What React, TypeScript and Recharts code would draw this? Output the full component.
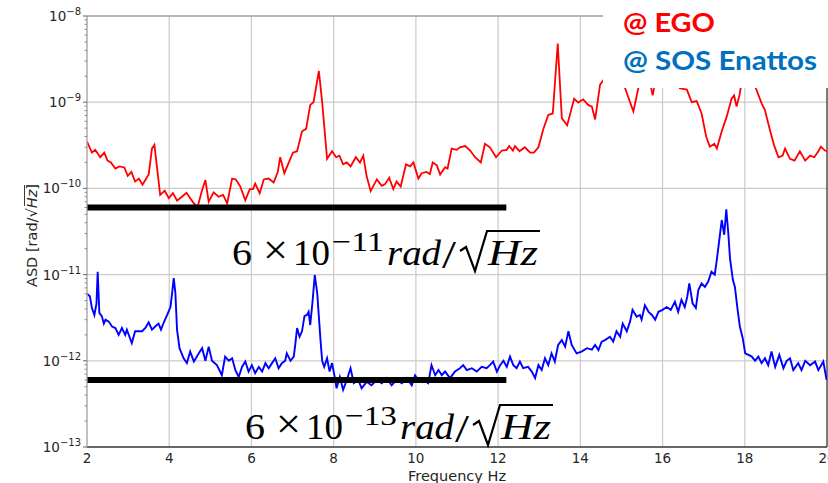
import React from 'react';
import { LineChart, Line, XAxis, YAxis, CartesianGrid, ReferenceLine } from 'recharts';

// ---------- axis ticks / labels ----------
const xTicks = [2, 4, 6, 8, 10, 12, 14, 16, 18, 20];
const yDecades = [1e-13, 1e-12, 1e-11, 1e-10, 1e-9, 1e-8];
const yMinorMultipliers = [2, 3, 4, 5, 6, 7, 8, 9];
const xGridValues = [4, 6, 8, 10, 12, 14, 16, 18];
const yGridValues = [1e-12, 1e-11, 1e-10, 1e-9];
const xAxisLabel = 'Frequency Hz';
const legendLabels = ['@ EGO', '@ SOS Enattos'];

// ---------- threshold lines ----------
const thresholdEGO = 6e-11;
const thresholdSOS = 6e-13;
const thresholdFreqStart = 2;
const thresholdFreqEnd = 12.2;

// ---------- spectra: [frequency Hz, ASD rad/sqrt(Hz)] ----------
const egoSpectrum: [number, number][] = [
  [2.00, 3.5e-10], [2.12, 2.6e-10], [2.20, 2.8e-10], [2.32, 2.3e-10], [2.42, 2.6e-10], [2.50, 2.1e-10],
  [2.58, 2.0e-10], [2.69, 1.7e-10], [2.79, 1.8e-10], [2.91, 1.75e-10], [2.99, 1.4e-10], [3.08, 1.55e-10],
  [3.17, 1.2e-10], [3.26, 1.3e-10], [3.35, 1.1e-10], [3.50, 1.45e-10], [3.58, 2.9e-10], [3.64, 3.2e-10],
  [3.70, 1.8e-10], [3.78, 8.4e-11], [3.89, 9.4e-11], [3.99, 7.7e-11], [4.09, 8.8e-11], [4.19, 7.2e-11],
  [4.31, 8.0e-11], [4.42, 8.9e-11], [4.51, 7.7e-11], [4.60, 6.7e-11], [4.69, 6.1e-11], [4.80, 9.6e-11],
  [4.88, 1.25e-10], [4.96, 7.0e-11], [5.08, 9.0e-11], [5.20, 8.0e-11], [5.31, 8.4e-11], [5.41, 6.7e-11],
  [5.53, 1.3e-10], [5.62, 1.27e-10], [5.73, 1.05e-10], [5.85, 7.3e-11], [5.96, 9.8e-11], [6.04, 9.8e-11],
  [6.09, 1.14e-10], [6.20, 8.8e-11], [6.30, 1.27e-10], [6.42, 1.3e-10], [6.54, 1.17e-10], [6.64, 1.55e-10],
  [6.70, 2.3e-10], [6.80, 1.5e-10], [6.91, 2.0e-10], [7.01, 2.6e-10], [7.11, 2.7e-10], [7.23, 4.6e-10],
  [7.33, 4.9e-10], [7.43, 9.3e-10], [7.51, 1.0e-9], [7.64, 2.3e-9], [7.72, 1.0e-9], [7.84, 2.2e-10],
  [7.96, 2.7e-10], [8.06, 2.3e-10], [8.14, 2.4e-10], [8.23, 1.9e-10], [8.32, 2.0e-10], [8.41, 1.8e-10],
  [8.54, 2.3e-10], [8.64, 2.0e-10], [8.72, 2.4e-10], [8.80, 1.4e-10], [8.90, 9.3e-11], [9.05, 1.27e-10],
  [9.17, 1.07e-10], [9.25, 1.12e-10], [9.35, 1.33e-10], [9.45, 9.8e-11], [9.53, 1.2e-10], [9.63, 1.05e-10],
  [9.76, 1.9e-10], [9.86, 1.8e-10], [9.94, 2.0e-10], [10.06, 1.3e-10], [10.14, 1.5e-10], [10.26, 1.55e-10],
  [10.34, 1.47e-10], [10.41, 2.0e-10], [10.51, 1.85e-10], [10.59, 1.45e-10], [10.71, 1.76e-10], [10.77, 1.7e-10],
  [10.87, 2.9e-10], [10.99, 2.8e-10], [11.07, 3.0e-10], [11.20, 3.1e-10], [11.32, 2.75e-10], [11.44, 2.3e-10],
  [11.58, 2.0e-10], [11.68, 3.3e-10], [11.80, 3.0e-10], [11.95, 2.3e-10], [12.09, 2.75e-10], [12.21, 2.8e-10],
  [12.27, 3.1e-10], [12.36, 2.75e-10], [12.41, 3.1e-10], [12.52, 2.7e-10], [12.65, 3.0e-10], [12.78, 2.6e-10],
  [12.87, 2.6e-10], [12.98, 3.0e-10], [13.10, 4.9e-10], [13.22, 7.1e-10], [13.33, 7.4e-10], [13.45, 4.8e-9],
  [13.55, 6.5e-10], [13.68, 5.4e-10], [13.85, 1.1e-9], [13.95, 9.9e-10], [14.07, 1.08e-9], [14.19, 9.3e-10],
  [14.28, 8.9e-10], [14.36, 6.3e-10], [14.48, 1.6e-9], [14.56, 1.8e-9], [14.70, 2.6e-9], [14.85, 2.3e-9],
  [14.97, 2.0e-9], [15.09, 1.45e-9], [15.29, 7.8e-10], [15.41, 1.45e-9], [15.52, 2.5e-9], [15.65, 2.1e-9],
  [15.76, 1.2e-9], [15.86, 2.2e-9], [16.00, 2.9e-9], [16.15, 2.5e-9], [16.30, 2.2e-9], [16.42, 1.45e-9],
  [16.59, 1.4e-9], [16.71, 1.0e-9], [16.83, 1.03e-9], [16.95, 7.4e-10], [17.06, 4.0e-10], [17.15, 3.05e-10],
  [17.26, 3.3e-10], [17.32, 2.9e-10], [17.44, 4.6e-10], [17.56, 6.8e-10], [17.68, 1.1e-9], [17.74, 1.2e-9],
  [17.80, 8.9e-10], [17.87, 1.2e-9], [17.90, 1.45e-9], [18.03, 2.5e-9], [18.15, 2.0e-9], [18.27, 1.45e-9],
  [18.41, 9.7e-10], [18.49, 8.1e-10], [18.61, 4.8e-10], [18.71, 3.2e-10], [18.82, 2.3e-10], [18.92, 2.4e-10],
  [18.98, 2.9e-10], [19.10, 2.2e-10], [19.21, 2.1e-10], [19.34, 2.7e-10], [19.47, 2.1e-10], [19.59, 2.4e-10],
  [19.69, 2.3e-10], [19.79, 2.7e-10], [19.85, 3.05e-10], [19.95, 2.75e-10], [20.00, 2.7e-10],
];

const sosSpectrum: [number, number][] = [
  [2.00, 6.0e-12], [2.07, 5.6e-12], [2.12, 4.1e-12], [2.18, 3.4e-12], [2.23, 4.6e-12], [2.26, 1.08e-11],
  [2.30, 3.6e-12], [2.36, 3.3e-12], [2.41, 2.7e-12], [2.45, 3.0e-12], [2.53, 2.85e-12], [2.61, 2.5e-12],
  [2.69, 2.4e-12], [2.77, 2.0e-12], [2.85, 2.4e-12], [2.93, 2.0e-12], [2.97, 2.3e-12], [3.05, 1.8e-12],
  [3.09, 1.6e-12], [3.17, 2.2e-12], [3.26, 2.2e-12], [3.34, 2.2e-12], [3.42, 2.4e-12], [3.50, 2.8e-12],
  [3.58, 2.3e-12], [3.66, 2.5e-12], [3.74, 2.7e-12], [3.80, 2.3e-12], [3.87, 2.8e-12], [3.95, 3.4e-12],
  [4.03, 4.2e-12], [4.07, 6.1e-12], [4.11, 9.1e-12], [4.15, 6.1e-12], [4.19, 2.3e-12], [4.25, 1.4e-12],
  [4.35, 1.07e-12], [4.43, 9.4e-13], [4.51, 1.28e-12], [4.60, 9.8e-13], [4.72, 1.22e-12], [4.80, 1.4e-12],
  [4.88, 1.0e-12], [4.96, 1.46e-12], [5.04, 1.0e-12], [5.16, 8.9e-13], [5.28, 6.8e-13], [5.36, 1.12e-12],
  [5.45, 1.0e-12], [5.53, 1.07e-12], [5.61, 7.8e-13], [5.69, 6.5e-13], [5.77, 8.5e-13], [5.85, 9.8e-13],
  [5.93, 7.5e-13], [6.01, 8.9e-13], [6.09, 7.2e-13], [6.18, 8.5e-13], [6.26, 7.5e-13], [6.34, 9.4e-13],
  [6.42, 8.2e-13], [6.50, 9.4e-13], [6.58, 1.07e-12], [6.66, 8.2e-13], [6.74, 9.4e-13], [6.82, 1.0e-12],
  [6.86, 1.22e-12], [6.95, 1.0e-12], [7.03, 1.12e-12], [7.07, 1.6e-12], [7.11, 2.4e-12], [7.17, 1.9e-12],
  [7.23, 2.2e-12], [7.29, 3.3e-12], [7.35, 3.4e-12], [7.39, 3.7e-12], [7.43, 2.6e-12], [7.49, 5.1e-12],
  [7.54, 9.9e-12], [7.60, 6.1e-12], [7.68, 1.74e-12], [7.72, 1.0e-12], [7.77, 8.5e-13], [7.84, 1.07e-12],
  [7.90, 7.5e-13], [7.96, 9.4e-13], [8.04, 6.0e-13], [8.07, 4.8e-13], [8.15, 6.5e-13], [8.23, 4.6e-13],
  [8.32, 6.0e-13], [8.41, 8.2e-13], [8.49, 5.5e-13], [8.60, 6.0e-13], [8.68, 4.8e-13], [8.80, 5.7e-13],
  [8.92, 5.2e-13], [9.05, 6.0e-13], [9.17, 5.5e-13], [9.29, 6.3e-13], [9.41, 5.2e-13], [9.53, 6.0e-13],
  [9.66, 5.5e-13], [9.78, 6.3e-13], [9.90, 5.2e-13], [9.98, 6.8e-13], [10.06, 6.0e-13], [10.18, 6.0e-13],
  [10.30, 5.5e-13], [10.38, 8.9e-13], [10.47, 6.8e-13], [10.55, 7.8e-13], [10.63, 6.8e-13], [10.71, 7.5e-13],
  [10.83, 6.3e-13], [10.95, 7.5e-13], [11.07, 8.2e-13], [11.15, 8.9e-13], [11.24, 7.8e-13], [11.36, 8.2e-13],
  [11.48, 7.5e-13], [11.60, 8.5e-13], [11.72, 8.2e-13], [11.80, 8.9e-13], [11.88, 9.8e-13], [11.97, 7.5e-13],
  [12.05, 8.9e-13], [12.13, 1.0e-12], [12.21, 8.5e-13], [12.29, 1.12e-12], [12.37, 8.9e-13], [12.45, 8.2e-13],
  [12.53, 9.8e-13], [12.61, 8.2e-13], [12.73, 8.5e-13], [12.82, 7.5e-13], [12.90, 6.3e-13], [12.98, 8.9e-13],
  [13.06, 7.8e-13], [13.14, 1.07e-12], [13.22, 8.9e-13], [13.30, 1.22e-12], [13.38, 9.8e-13], [13.46, 1.53e-12],
  [13.55, 1.74e-12], [13.63, 1.46e-12], [13.71, 2.2e-12], [13.79, 1.53e-12], [13.91, 1.22e-12], [14.03, 1.28e-12],
  [14.16, 1.4e-12], [14.28, 1.35e-12], [14.36, 1.53e-12], [14.44, 1.33e-12], [14.52, 1.67e-12], [14.60, 1.74e-12],
  [14.72, 1.9e-12], [14.80, 1.67e-12], [14.88, 2.2e-12], [14.97, 1.9e-12], [15.03, 2.7e-12], [15.13, 2.2e-12],
  [15.21, 2.85e-12], [15.27, 3.9e-12], [15.37, 3.25e-12], [15.45, 3.4e-12], [15.49, 3.0e-12], [15.57, 4.4e-12],
  [15.66, 3.7e-12], [15.74, 3.4e-12], [15.82, 3.0e-12], [15.90, 3.7e-12], [16.00, 3.9e-12], [16.10, 4.2e-12],
  [16.20, 3.9e-12], [16.30, 4.85e-12], [16.38, 3.7e-12], [16.46, 5.1e-12], [16.54, 4.2e-12], [16.60, 5.5e-12],
  [16.65, 7.9e-12], [16.73, 4.65e-12], [16.81, 4.1e-12], [16.87, 6.6e-12], [16.95, 7.9e-12], [17.03, 7.2e-12],
  [17.11, 8.3e-12], [17.19, 1.08e-11], [17.27, 1.0e-11], [17.32, 1.48e-11], [17.40, 3.0e-11], [17.44, 4.3e-11],
  [17.50, 2.9e-11], [17.55, 5.7e-11], [17.60, 3.0e-11], [17.64, 1.55e-11], [17.71, 8.7e-12], [17.76, 7.2e-12],
  [17.82, 4.1e-12], [17.88, 2.5e-12], [17.95, 1.83e-12], [18.01, 1.22e-12], [18.09, 1.17e-12], [18.17, 1.12e-12],
  [18.25, 1.0e-12], [18.33, 1.12e-12], [18.41, 9.4e-13], [18.49, 1.07e-12], [18.57, 8.9e-13], [18.65, 1.28e-12],
  [18.74, 8.5e-13], [18.84, 1.17e-12], [18.94, 8.2e-13], [19.02, 1.0e-12], [19.10, 1.07e-12], [19.18, 7.8e-13],
  [19.30, 9.4e-13], [19.38, 7.8e-13], [19.47, 1.0e-12], [19.59, 8.9e-13], [19.71, 9.8e-13], [19.79, 7.8e-13],
  [19.91, 9.8e-13], [19.99, 6.0e-13],
];

const egoData = egoSpectrum.map(([f, v]) => ({ f, v }));
const sosData = sosSpectrum.map(([f, v]) => ({ f, v }));

const yTicks: number[] = [];
yDecades.forEach((d, i) => {
  yTicks.push(d);
  if (i < yDecades.length - 1) yMinorMultipliers.forEach((m) => yTicks.push(m * d));
});

const TICK_FONT = 'DejaVu Sans';

const YTick = (props: any) => {
  const { x, y, payload } = props;
  const v = payload.value as number;
  const e = Math.round(Math.log10(v));
  const major = Math.abs(v / Math.pow(10, e) - 1) < 1e-6;
  if (!major) {
    return <line x1={x - 2.5} x2={x} y1={y} y2={y} stroke="#777" strokeWidth={0.8} />;
  }
  return (
    <g>
      <line x1={x - 4} x2={x} y1={y} y2={y} stroke="#666" strokeWidth={1} />
      <text x={x - 6} y={y + 5} textAnchor="end" fontFamily={TICK_FONT} fontSize={13.5} fill="#262626">
        <tspan>10</tspan>
        <tspan dy={-6} fontSize={10}>{'\u2212' + Math.abs(e)}</tspan>
      </text>
    </g>
  );
};

const XTick = (props: any) => {
  const { x, y, payload } = props;
  return (
    <text x={x} y={y + 16} textAnchor="middle" fontFamily={TICK_FONT} fontSize={13.5} fill="#262626">
      {payload.value}
    </text>
  );
};

const Annotation = ({ dx, dy, exp }: { dx: number; dy: number; exp: string }) => {
  const b = 265 + dy;
  const f = 'Liberation Serif';
  return (
    <g fill="#000" fontFamily={f}>
      <text x={232 + dx} y={b} fontSize={36} textLength={20} lengthAdjust="spacingAndGlyphs">6</text>
      <text x={263 + dx} y={b - 1} fontSize={42} textLength={25} lengthAdjust="spacingAndGlyphs">×</text>
      <text x={293 + dx} y={b} fontSize={36} textLength={37} lengthAdjust="spacingAndGlyphs">10</text>
      <text x={332 + dx} y={b - 14} fontSize={28} textLength={52} lengthAdjust="spacingAndGlyphs">{'\u2212' + exp}</text>
      <text x={387 + dx} y={b} fontSize={36} fontStyle="italic" textLength={54} lengthAdjust="spacingAndGlyphs">rad</text>
      <text x={442 + dx} y={b + 3} fontSize={40} textLength={14} lengthAdjust="spacingAndGlyphs">/</text>
      <path
        d={`M${460 + dx},${b - 14} L${466 + dx},${b - 18} L${475 + dx},${b + 6} L${487 + dx},${b - 34} L${540 + dx},${b - 34}`}
        fill="none" stroke="#000" strokeWidth={2.2} strokeLinejoin="miter"
      />
      <text x={488 + dx} y={b} fontSize={36} fontStyle="italic" textLength={50} lengthAdjust="spacingAndGlyphs">Hz</text>
    </g>
  );
};

export default function App() {
  return (
    <div style={{ position: 'absolute', left: 0, top: 0, width: 828, height: 483, background: '#fff' }}>
      <LineChart width={828} height={483} margin={{ top: 16, right: 1, bottom: 0, left: 0 }}>
        <CartesianGrid
          horizontalValues={yGridValues}
          verticalValues={xGridValues}
          stroke="#cbcbcb"
          strokeWidth={1.2}
        />
        <XAxis
          type="number"
          dataKey="f"
          domain={[2, 20]}
          ticks={xTicks}
          interval={0}
          height={36}
          allowDataOverflow
          tickSize={0}
          tickMargin={0}
          tickLine={false}
          tick={<XTick />}
          axisLine={{ stroke: '#333', strokeWidth: 1.3 }}
        />
        <YAxis
          type="number"
          dataKey="v"
          scale="log"
          domain={[1e-13, 1e-8]}
          ticks={yTicks}
          interval={0}
          width={87}
          allowDataOverflow
          tickSize={0}
          tickMargin={0}
          tickLine={false}
          tick={<YTick />}
          axisLine={{ stroke: '#a0a0a0', strokeWidth: 1.3 }}
        />
        <ReferenceLine y={1e-8} stroke="#a0a0a0" strokeWidth={1.3} />
        <ReferenceLine x={20} stroke="#333" strokeWidth={1.3} />
        <Line data={egoData} dataKey="v" stroke="#ff0000" strokeWidth={1.8} dot={false} isAnimationActive={false} type="linear" />
        <Line data={sosData} dataKey="v" stroke="#0000ff" strokeWidth={1.9} dot={false} isAnimationActive={false} type="linear" />
        <ReferenceLine
          segment={[{ x: thresholdFreqStart, y: thresholdEGO }, { x: thresholdFreqEnd, y: thresholdEGO }]}
          stroke="#000" strokeWidth={6}
        />
        <ReferenceLine
          segment={[{ x: thresholdFreqStart, y: thresholdSOS }, { x: thresholdFreqEnd, y: thresholdSOS }]}
          stroke="#000" strokeWidth={6}
        />
      </LineChart>
      <svg width={828} height={483} style={{ position: 'absolute', left: 0, top: 0, pointerEvents: 'none' }}>
        {/* y-axis label */}
        <g transform="translate(37,232) rotate(-90)" fontFamily={TICK_FONT} fontSize={14.5} fill="#262626">
          <text x={-55} y={0}>
            ASD [rad/{'\u221A'}<tspan fontStyle="italic">Hz</tspan>]
          </text>
          <line x1={26} x2={47} y1={-12.5} y2={-12.5} stroke="#262626" strokeWidth={0.9} />
        </g>
        {/* x-axis label */}
        <text x={457} y={481} textAnchor="middle" fontFamily={TICK_FONT} fontSize={14.5} fill="#262626">{xAxisLabel}</text>
        {/* annotations */}
        <Annotation dx={0} dy={0} exp="11" />
        <Annotation dx={13} dy={174} exp="13" />
        {/* legend box */}
        <rect x={603} y={0} width={225} height={88} fill="#fff" />
        <text x={623} y={32} fontFamily="Lato" fontWeight="bold" fontSize={27} fill="#ff0000" textLength={92} lengthAdjust="spacingAndGlyphs">{legendLabels[0]}</text>
        <text x={623} y={70} fontFamily="Lato" fontWeight="bold" fontSize={27} fill="#0070c0" textLength={194} lengthAdjust="spacingAndGlyphs">{legendLabels[1]}</text>
      </svg>
    </div>
  );
}
